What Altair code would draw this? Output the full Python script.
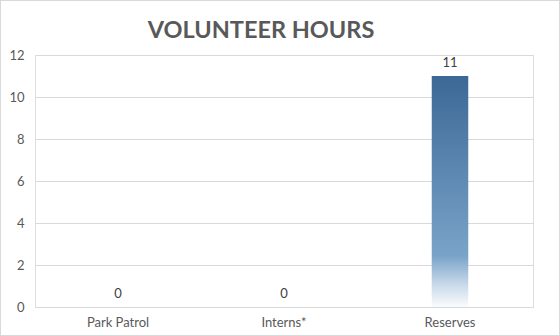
import altair as alt
import pandas as pd

categories = ["Park Patrol", "Interns*", "Reserves"]
hours = [0, 0, 11]
y_ticks = [0, 2, 4, 6, 8, 10, 12]
chart_title = ["VOLUNTEER HOURS"]

df = pd.DataFrame({"category": categories, "hours": hours})
tdf = pd.DataFrame({"t": chart_title})

FONT = "Lato"

x = alt.X("category:N", sort=categories, title=None,
          scale=alt.Scale(paddingInner=0.78, paddingOuter=0.39),
          axis=alt.Axis(labelAngle=0, ticks=False, domain=False, labelPadding=9,
                        labelFontSize=13, labelColor="#595959", labelFont=FONT))
y = alt.Y("hours:Q", title=None,
          scale=alt.Scale(domain=[0, 12], nice=False),
          axis=alt.Axis(values=y_ticks, ticks=False, domain=False, labelPadding=11,
                        labelFontSize=13, labelColor="#595959", labelFont=FONT,
                        gridColor="#d9d9d9", gridWidth=1))

grad = alt.Gradient(
    gradient="linear", x1=0, x2=0, y1=0, y2=1,
    stops=[
        alt.GradientStop(offset=0, color="#3b6896"),
        alt.GradientStop(offset=0.78, color="#7aa3c8"),
        alt.GradientStop(offset=0.9, color="#c6d8e9"),
        alt.GradientStop(offset=1, color="#fafcfe"),
    ],
)

bars = alt.Chart(df).mark_bar(color=grad).encode(x=x, y=y)
labels = alt.Chart(df).mark_text(dy=-13, fontSize=13, color="#404040", font=FONT).encode(
    x=x, y=y, text="hours:Q")

title = alt.Chart(tdf).mark_text(fontSize=23.5, font=FONT, fontWeight="bold", color="#595959",
                                 baseline="middle", align="center").encode(
    x=alt.value(226), y=alt.value(-24), text="t:N")

frame = alt.Chart(df).mark_rect(fill=None, stroke="#d9d9d9", strokeWidth=1).encode(
    x=alt.value(-34.5), x2=alt.value(524.5), y=alt.value(-54.5), y2=alt.value(28.5 + 252))

chart = alt.layer(bars, labels, title, frame).properties(
    width=498, height=252,
    padding={"left": 35, "top": 55, "right": 27, "bottom": 29},
    autosize=alt.AutoSizeParams(type="none"),
).configure_view(stroke=None).configure(background="white")

chart.save("out.html", embed_options={"renderer": "svg", "actions": False})
